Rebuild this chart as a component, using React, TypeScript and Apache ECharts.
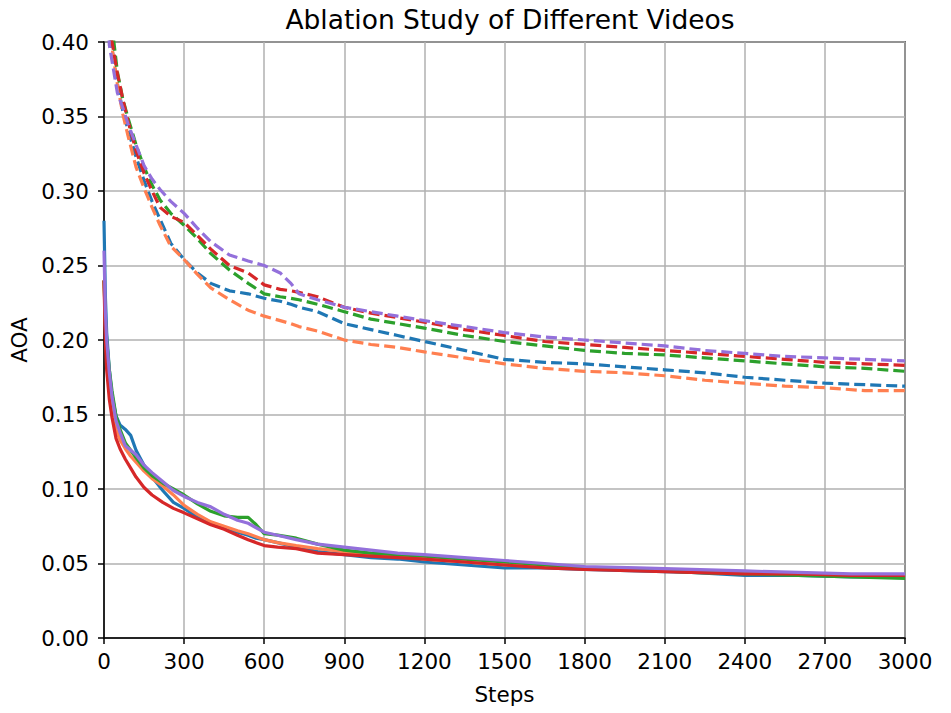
import React, { useEffect, useRef } from "react";
import * as echarts from "echarts";

const chartTitle = "Ablation Study of Different Videos";
const xName = "Steps";
const yName = "AOA";

// Dashed curves (upper group)
const dashedSteps = [0, 20, 35, 50, 70, 90, 120, 150, 180, 210, 250, 300, 350, 400, 470, 540, 600, 660, 700, 730, 800, 900, 1000, 1100, 1200, 1350, 1500, 1650, 1800, 1950, 2100, 2250, 2400, 2550, 2700, 2850, 3000];
const dashedBlue = [0.5, 0.405, 0.39, 0.372, 0.354, 0.341, 0.323, 0.307, 0.293, 0.281, 0.265, 0.254, 0.245, 0.238, 0.233, 0.231, 0.228, 0.226, 0.224, 0.222, 0.219, 0.211, 0.207, 0.203, 0.199, 0.193, 0.187, 0.185, 0.184, 0.182, 0.18, 0.178, 0.175, 0.173, 0.171, 0.17, 0.169];
const dashedOrange = [0.48, 0.41, 0.39, 0.372, 0.352, 0.337, 0.316, 0.302, 0.289, 0.277, 0.263, 0.254, 0.244, 0.235, 0.227, 0.22, 0.216, 0.213, 0.211, 0.209, 0.206, 0.2, 0.197, 0.195, 0.192, 0.188, 0.184, 0.181, 0.179, 0.178, 0.176, 0.173, 0.171, 0.169, 0.168, 0.166, 0.166];
const dashedGreen = [0.53, 0.42, 0.403, 0.38, 0.362, 0.349, 0.331, 0.316, 0.304, 0.294, 0.285, 0.277, 0.268, 0.258, 0.247, 0.238, 0.231, 0.229, 0.228, 0.227, 0.224, 0.219, 0.214, 0.211, 0.208, 0.203, 0.199, 0.196, 0.193, 0.191, 0.19, 0.188, 0.186, 0.184, 0.182, 0.181, 0.179];
const dashedRed = [0.52, 0.41, 0.395, 0.379, 0.362, 0.347, 0.327, 0.312, 0.3, 0.289, 0.283, 0.279, 0.27, 0.261, 0.25, 0.245, 0.237, 0.234, 0.233, 0.232, 0.229, 0.222, 0.218, 0.215, 0.212, 0.207, 0.203, 0.199, 0.197, 0.195, 0.193, 0.191, 0.189, 0.187, 0.185, 0.184, 0.183];
const dashedPurple = [0.5, 0.398, 0.382, 0.366, 0.356, 0.345, 0.331, 0.317, 0.308, 0.301, 0.293, 0.285, 0.275, 0.266, 0.257, 0.253, 0.25, 0.245, 0.238, 0.231, 0.227, 0.222, 0.219, 0.216, 0.213, 0.209, 0.205, 0.202, 0.2, 0.198, 0.196, 0.193, 0.191, 0.189, 0.188, 0.187, 0.186];

// Solid curves (lower group)
const solidSteps = [0, 5, 10, 20, 30, 45, 60, 80, 100, 120, 150, 180, 220, 260, 300, 350, 400, 450, 500, 540, 570, 600, 650, 720, 800, 900, 1000, 1100, 1200, 1350, 1500, 1650, 1800, 2000, 2200, 2400, 2600, 2800, 3000];
const solidBlue = [0.28, 0.23, 0.205, 0.18, 0.163, 0.149, 0.143, 0.14, 0.136, 0.126, 0.116, 0.108, 0.099, 0.091, 0.087, 0.081, 0.077, 0.074, 0.071, 0.069, 0.067, 0.066, 0.064, 0.061, 0.058, 0.056, 0.054, 0.053, 0.051, 0.049, 0.047, 0.047, 0.046, 0.045, 0.044, 0.042, 0.042, 0.041, 0.041];
const solidOrange = [0.24, 0.21, 0.19, 0.17, 0.155, 0.14, 0.133, 0.127, 0.122, 0.118, 0.112, 0.107, 0.102, 0.096, 0.089, 0.083, 0.078, 0.075, 0.072, 0.07, 0.068, 0.066, 0.064, 0.062, 0.06, 0.058, 0.056, 0.055, 0.053, 0.051, 0.049, 0.048, 0.047, 0.046, 0.045, 0.044, 0.043, 0.042, 0.042];
const solidGreen = [0.24, 0.215, 0.2, 0.18, 0.166, 0.149, 0.14, 0.131, 0.126, 0.121, 0.114, 0.109, 0.104, 0.1, 0.096, 0.09, 0.085, 0.082, 0.081, 0.081, 0.076, 0.07, 0.069, 0.067, 0.063, 0.059, 0.057, 0.056, 0.055, 0.053, 0.051, 0.049, 0.047, 0.046, 0.044, 0.043, 0.042, 0.041, 0.04];
const solidRed = [0.24, 0.2, 0.18, 0.16, 0.148, 0.134, 0.127, 0.12, 0.114, 0.108, 0.101, 0.096, 0.091, 0.087, 0.084, 0.08, 0.076, 0.073, 0.069, 0.066, 0.064, 0.062, 0.061, 0.06, 0.057, 0.056, 0.055, 0.054, 0.053, 0.051, 0.049, 0.047, 0.046, 0.045, 0.044, 0.043, 0.043, 0.042, 0.042];
const solidPurple = [0.26, 0.22, 0.2, 0.178, 0.162, 0.146, 0.138, 0.129, 0.126, 0.123, 0.116, 0.111, 0.105, 0.099, 0.095, 0.091, 0.088, 0.083, 0.079, 0.077, 0.074, 0.071, 0.069, 0.066, 0.063, 0.061, 0.059, 0.057, 0.056, 0.054, 0.052, 0.05, 0.048, 0.047, 0.046, 0.045, 0.044, 0.043, 0.043];

const seriesNames = ["Blue", "Orange", "Green", "Red", "Purple"];
const colors = ["#1f77b4", "#ff7f50", "#2ca02c", "#d62728", "#9370db"];

const FONT = "DejaVu Sans";
const TICK_FONT = 21.5;

export default function App() {
  const ref = useRef<HTMLDivElement>(null);
  useEffect(() => {
    document.body.style.margin = "0";
    const chart = echarts.init(ref.current!, null, { renderer: "svg" });
    const dashedData = [dashedBlue, dashedOrange, dashedGreen, dashedRed, dashedPurple];
    const solidData = [solidBlue, solidOrange, solidGreen, solidRed, solidPurple];
    const series: any[] = [];
    dashedData.forEach((vals, i) => {
      series.push({
        name: seriesNames[i] + " (dashed)",
        type: "line",
        data: dashedSteps.map((s, k) => [s, vals[k]]),
        showSymbol: false,
        symbol: "none",
        clip: true,
        lineStyle: { color: colors[i], width: 3.2, type: [11, 5] },
        itemStyle: { color: colors[i] },
        z: 2 + i,
      });
    });
    solidData.forEach((vals, i) => {
      series.push({
        name: seriesNames[i],
        type: "line",
        data: solidSteps.map((s, k) => [s, vals[k]]),
        showSymbol: false,
        symbol: "none",
        clip: true,
        lineStyle: { color: colors[i], width: 3.2 },
        itemStyle: { color: colors[i] },
        z: 2 + i,
      });
    });
    chart.setOption({
      animation: false,
      backgroundColor: "#ffffff",
      title: {
        text: chartTitle,
        left: 505,
        textAlign: "center",
        top: 1,
        textStyle: { fontFamily: FONT, fontSize: 26.5, fontWeight: "normal", color: "#000" },
      },
      grid: {
        left: 103,
        right: 46,
        top: 42,
        bottom: 75,
        show: true,
        borderColor: "#000",
        borderWidth: 1.5,
        backgroundColor: "transparent",
      },
      xAxis: {
        type: "value",
        min: 0,
        max: 3000,
        interval: 300,
        name: xName,
        nameLocation: "middle",
        nameGap: 45,
        nameTextStyle: { fontFamily: FONT, fontSize: TICK_FONT, color: "#000" },
        axisLine: { show: true, onZero: false, lineStyle: { color: "#000", width: 1.5 } },
        axisTick: { show: true, inside: false, length: 6, lineStyle: { color: "#000", width: 1.5 } },
        axisLabel: {
          fontFamily: FONT,
          fontSize: TICK_FONT,
          color: "#000",
          margin: 12,
          formatter: (v: number) => String(v),
        },
        splitLine: { show: true, lineStyle: { color: "#b0b0b0", width: 1.5 } },
      },
      yAxis: {
        type: "value",
        min: 0,
        max: 0.4,
        interval: 0.05,
        name: yName,
        nameLocation: "middle",
        nameGap: 74,
        nameRotate: 90,
        nameTextStyle: { fontFamily: FONT, fontSize: TICK_FONT, color: "#000" },
        axisLine: { show: true, onZero: false, lineStyle: { color: "#000", width: 1.5 } },
        axisTick: { show: true, inside: false, length: 6, lineStyle: { color: "#000", width: 1.5 } },
        axisLabel: {
          fontFamily: FONT,
          fontSize: TICK_FONT,
          color: "#000",
          margin: 15,
          formatter: (v: number) => v.toFixed(2),
        },
        splitLine: { show: true, lineStyle: { color: "#b0b0b0", width: 1.5 } },
      },
      series,
    });
    return () => chart.dispose();
  }, []);
  return <div ref={ref} style={{ width: 951, height: 713 }} />;
}
